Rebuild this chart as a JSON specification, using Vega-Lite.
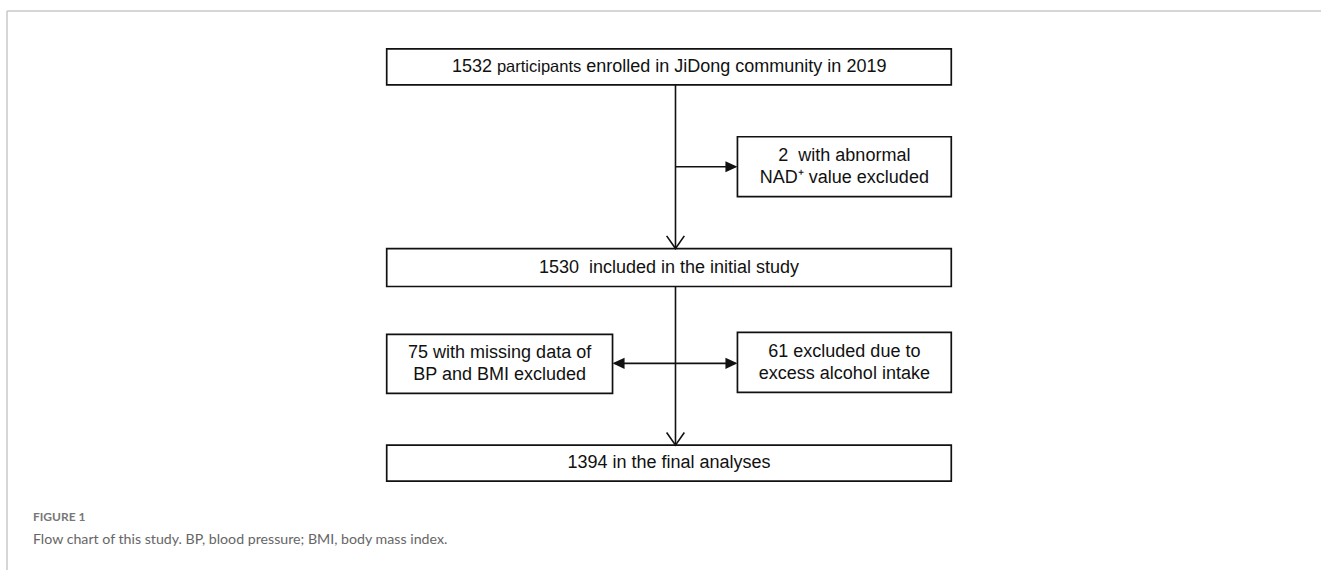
{
  "$schema": "https://vega.github.io/schema/vega-lite/v6.json",
  "width": 1322,
  "height": 571,
  "autosize": {"type": "fit", "contains": "padding"},
  "padding": 0,
  "background": "white",
  "config": {"view": {"stroke": null}},
  "datasets": {
    "frame": [
      {"x": 7, "x2": 1322, "y": 11, "y2": 11},
      {"x": 7, "x2": 7, "y": 11, "y2": 571}
    ],
    "boxes": [
      {"id": "enrolled", "x": 387, "x2": 952, "y": 49, "y2": 85},
      {"id": "initial", "x": 387, "x2": 952, "y": 249, "y2": 287},
      {"id": "final", "x": 387, "x2": 952, "y": 446, "y2": 482},
      {"id": "nad", "x": 738, "x2": 952, "y": 137, "y2": 197},
      {"id": "missing", "x": 387, "x2": 613, "y": 335, "y2": 394},
      {"id": "alcohol", "x": 738, "x2": 952, "y": 333, "y2": 393}
    ],
    "links": [
      {"x": 676, "x2": 676, "y": 85, "y2": 249},
      {"x": 676, "x2": 736, "y": 167, "y2": 167},
      {"x": 676, "x2": 676, "y": 287, "y2": 446},
      {"x": 615, "x2": 736, "y": 364, "y2": 364}
    ],
    "headsRight": [
      {"x": 738, "y": 167},
      {"x": 738, "y": 364}
    ],
    "headsLeft": [
      {"x": 613, "y": 364}
    ],
    "headsDown": [
      {"x": 676, "y": 249},
      {"x": 676, "y": 446}
    ],
    "centerText": [
      {"x": 845, "y": 156, "text": "2\u00a0 with abnormal\nNAD⁺ value excluded"},
      {"x": 669.5, "y": 268, "text": "1530\u00a0 included in the initial study"},
      {"x": 500, "y": 354, "text": "75 with missing data of\nBP and BMI excluded"},
      {"x": 845, "y": 353, "text": "61 excluded due to\nexcess alcohol intake"},
      {"x": 669.5, "y": 464, "text": "1394 in the final analyses"}
    ],
    "leftText": [
      {"x": 452.3, "y": 67, "text": "1532"},
      {"x": 586.7, "y": 67, "text": "enrolled in JiDong community in 2019"}
    ],
    "smallText": [
      {"x": 497.3, "y": 67, "text": "participants"}
    ],
    "captionHead": [
      {"x": 33, "y": 522, "text": "FIGURE 1"}
    ],
    "caption": [
      {"x": 33, "y": 545, "text": "Flow chart of this study. BP, blood pressure; BMI, body mass index."}
    ]
  },
  "encoding": {
    "x": {"field": "x", "type": "quantitative", "axis": null, "scale": {"domain": [0, 1322], "nice": false, "zero": false}},
    "y": {"field": "y", "type": "quantitative", "axis": null, "scale": {"domain": [0, 571], "nice": false, "zero": false, "reverse": true}}
  },
  "layer": [
    {
      "data": {"name": "frame"},
      "mark": {"type": "rule", "color": "#c8c8c8", "strokeWidth": 1.5},
      "encoding": {"x2": {"field": "x2"}, "y2": {"field": "y2"}}
    },
    {
      "data": {"name": "boxes"},
      "mark": {"type": "rect", "fill": "white", "stroke": "#111111", "strokeWidth": 1.7},
      "encoding": {"x2": {"field": "x2"}, "y2": {"field": "y2"}}
    },
    {
      "data": {"name": "links"},
      "mark": {"type": "rule", "color": "#111111", "strokeWidth": 1.6},
      "encoding": {"x2": {"field": "x2"}, "y2": {"field": "y2"}}
    },
    {
      "data": {"name": "headsRight"},
      "mark": {"type": "point", "shape": "M0,0L-2,-0.92L-2,0.92Z", "filled": true, "size": 144, "color": "#111111", "opacity": 1, "strokeWidth": 0}
    },
    {
      "data": {"name": "headsLeft"},
      "mark": {"type": "point", "shape": "M0,0L2,-0.92L2,0.92Z", "filled": true, "size": 144, "color": "#111111", "opacity": 1, "strokeWidth": 0}
    },
    {
      "data": {"name": "headsDown"},
      "mark": {"type": "point", "shape": "M-1.4,-2L0,0L1.4,-2", "filled": false, "size": 160, "color": "#111111", "opacity": 1, "strokeWidth": 1.6}
    },
    {
      "data": {"name": "centerText"},
      "mark": {"type": "text", "font": "Liberation Sans", "fontSize": 18, "color": "#111111", "align": "center", "baseline": "middle", "lineBreak": "\n", "lineHeight": 22},
      "encoding": {"text": {"field": "text"}}
    },
    {
      "data": {"name": "leftText"},
      "mark": {"type": "text", "font": "Liberation Sans", "fontSize": 18, "color": "#111111", "align": "left", "baseline": "middle"},
      "encoding": {"text": {"field": "text"}}
    },
    {
      "data": {"name": "smallText"},
      "mark": {"type": "text", "font": "Liberation Sans", "fontSize": 16.5, "color": "#111111", "align": "left", "baseline": "middle"},
      "encoding": {"text": {"field": "text"}}
    },
    {
      "data": {"name": "captionHead"},
      "mark": {"type": "text", "font": "Lato", "fontSize": 12, "fontWeight": "bold", "color": "#777777", "align": "left", "baseline": "alphabetic"},
      "encoding": {"text": {"field": "text"}}
    },
    {
      "data": {"name": "caption"},
      "mark": {"type": "text", "font": "Lato", "fontSize": 14.2, "color": "#666666", "align": "left", "baseline": "alphabetic"},
      "encoding": {"text": {"field": "text"}}
    }
  ]
}
